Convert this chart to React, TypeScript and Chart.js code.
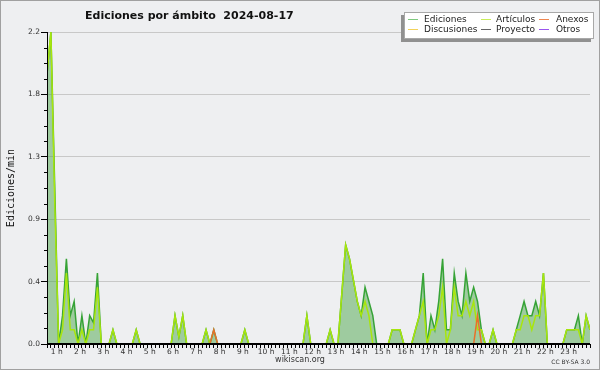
import React, { useEffect, useRef } from 'react';
import { Chart, registerables } from 'chart.js';

Chart.register(...registerables);

const TITLE = 'Ediciones por ámbito  2024-08-17';
const Y_AXIS_TITLE = 'Ediciones/min';
const FOOTER_SITE = 'wikiscan.org';
const FOOTER_LICENSE = 'CC BY-SA 3.0';

const HOUR_LABELS = [
  '1 h', '2 h', '3 h', '4 h', '5 h', '6 h', '7 h', '8 h', '9 h', '10 h', '11 h', '12 h',
  '13 h', '14 h', '15 h', '16 h', '17 h', '18 h', '19 h', '20 h', '21 h', '22 h', '23 h',
];

const Y_TICK_VALUES = [0, 0.44, 0.88, 1.32, 1.76, 2.2];
const Y_TICK_LABELS = ['0.0', '0.4', '0.9', '1.3', '1.8', '2.2'];

// values per 10-minute bin (edits per minute)
const EDICIONES = [
  1.9, 2.2, 1.1, 0, 0.2, 0.6, 0.2, 0.3, 0, 0.2, 0, 0.2,
  0.15, 0.5, 0, 0, 0, 0.1, 0, 0, 0, 0, 0, 0.1,
  0, 0, 0, 0, 0, 0, 0, 0, 0, 0.2, 0.05, 0.2,
  0, 0, 0, 0, 0, 0.1, 0, 0.1, 0, 0, 0, 0,
  0, 0, 0, 0.1, 0, 0, 0, 0, 0, 0, 0, 0,
  0, 0, 0, 0, 0, 0, 0, 0.2, 0, 0, 0, 0,
  0, 0.1, 0, 0, 0.35, 0.7, 0.6, 0.45, 0.3, 0.2, 0.4, 0.3,
  0.2, 0, 0, 0, 0, 0.1, 0.1, 0.1, 0, 0, 0, 0.1,
  0.2, 0.5, 0, 0.2, 0.1, 0.3, 0.6, 0.1, 0.1, 0.5, 0.3, 0.2,
  0.5, 0.3, 0.4, 0.3, 0.1, 0, 0, 0.1, 0, 0, 0, 0,
  0, 0.1, 0.2, 0.3, 0.2, 0.2, 0.3, 0.2, 0.5, 0, 0, 0,
  0, 0, 0.1, 0.1, 0.1, 0.2, 0, 0.2, 0.1,
];

const ARTICULOS = [
  1.9, 2.2, 1.0, 0, 0.1, 0.5, 0.1, 0.1, 0, 0.1, 0, 0.1,
  0.1, 0.4, 0, 0, 0, 0.1, 0, 0, 0, 0, 0, 0.1,
  0, 0, 0, 0, 0, 0, 0, 0, 0, 0.2, 0.05, 0.2,
  0, 0, 0, 0, 0, 0.1, 0, 0, 0, 0, 0, 0,
  0, 0, 0, 0.1, 0, 0, 0, 0, 0, 0, 0, 0,
  0, 0, 0, 0, 0, 0, 0, 0.2, 0, 0, 0, 0,
  0, 0.1, 0, 0, 0.35, 0.7, 0.6, 0.45, 0.3, 0.2, 0.3, 0.2,
  0, 0, 0, 0, 0, 0.1, 0.1, 0.1, 0, 0, 0, 0.1,
  0.2, 0.3, 0, 0.1, 0.1, 0.2, 0.4, 0, 0.1, 0.4, 0.2, 0.2,
  0.3, 0.2, 0.3, 0.1, 0.1, 0, 0, 0.1, 0, 0, 0, 0,
  0, 0.1, 0.1, 0.2, 0.2, 0.1, 0.2, 0.2, 0.5, 0, 0, 0,
  0, 0, 0.1, 0.1, 0.1, 0.1, 0, 0.2, 0.1,
];

const ANEXOS = [
  0, 0, 0, 0, 0, 0, 0, 0, 0, 0, 0, 0,
  0, 0, 0, 0, 0, 0, 0, 0, 0, 0, 0, 0,
  0, 0, 0, 0, 0, 0, 0, 0, 0, 0, 0, 0,
  0, 0, 0, 0, 0, 0, 0, 0.1, 0, 0, 0, 0,
  0, 0, 0, 0, 0, 0, 0, 0, 0, 0, 0, 0,
  0, 0, 0, 0, 0, 0, 0, 0, 0, 0, 0, 0,
  0, 0, 0, 0, 0, 0, 0, 0, 0, 0, 0, 0,
  0, 0, 0, 0, 0, 0, 0, 0, 0, 0, 0, 0,
  0, 0, 0, 0, 0, 0, 0, 0, 0, 0, 0, 0,
  0, 0, 0, 0.2, 0, 0, 0, 0, 0, 0, 0, 0,
  0, 0, 0, 0, 0, 0, 0, 0, 0, 0, 0, 0,
  0, 0, 0, 0, 0, 0, 0, 0, 0,
];

const DISCUSIONES = [
  0, 0, 0, 0, 0, 0, 0, 0, 0, 0, 0, 0,
  0, 0, 0, 0, 0, 0, 0, 0, 0, 0, 0, 0,
  0, 0, 0, 0, 0, 0, 0, 0, 0, 0, 0, 0,
  0, 0, 0, 0, 0, 0, 0, 0, 0, 0, 0, 0,
  0, 0, 0, 0, 0, 0, 0, 0, 0, 0, 0, 0,
  0, 0, 0, 0, 0, 0, 0, 0, 0, 0, 0, 0,
  0, 0, 0, 0, 0, 0, 0, 0, 0, 0, 0, 0,
  0, 0, 0, 0, 0, 0, 0, 0, 0, 0, 0, 0,
  0, 0, 0, 0, 0, 0, 0, 0, 0, 0, 0, 0,
  0, 0, 0, 0, 0, 0, 0, 0, 0, 0, 0, 0,
  0, 0, 0, 0, 0, 0, 0, 0, 0, 0, 0, 0,
  0, 0, 0, 0, 0, 0, 0, 0, 0,
];

const PROYECTO = [
  0, 0, 0, 0, 0, 0, 0, 0, 0, 0, 0, 0,
  0, 0, 0, 0, 0, 0, 0, 0, 0, 0, 0, 0,
  0, 0, 0, 0, 0, 0, 0, 0, 0, 0, 0, 0,
  0, 0, 0, 0, 0, 0, 0, 0, 0, 0, 0, 0,
  0, 0, 0, 0, 0, 0, 0, 0, 0, 0, 0, 0,
  0, 0, 0, 0, 0, 0, 0, 0, 0, 0, 0, 0,
  0, 0, 0, 0, 0, 0, 0, 0, 0, 0, 0, 0,
  0, 0, 0, 0, 0, 0, 0, 0, 0, 0, 0, 0,
  0, 0, 0, 0, 0, 0, 0, 0, 0, 0, 0, 0,
  0, 0, 0, 0, 0, 0, 0, 0, 0, 0, 0, 0,
  0, 0, 0, 0, 0, 0, 0, 0, 0, 0, 0, 0,
  0, 0, 0, 0, 0, 0, 0, 0, 0,
];

const OTROS = [
  0, 0, 0, 0, 0, 0, 0, 0, 0, 0, 0, 0,
  0, 0, 0, 0, 0, 0, 0, 0, 0, 0, 0, 0,
  0, 0, 0, 0, 0, 0, 0, 0, 0, 0, 0, 0,
  0, 0, 0, 0, 0, 0, 0, 0, 0, 0, 0, 0,
  0, 0, 0, 0, 0, 0, 0, 0, 0, 0, 0, 0,
  0, 0, 0, 0, 0, 0, 0, 0, 0, 0, 0, 0,
  0, 0, 0, 0, 0, 0, 0, 0, 0, 0, 0, 0,
  0, 0, 0, 0, 0, 0, 0, 0, 0, 0, 0, 0,
  0, 0, 0, 0, 0, 0, 0, 0, 0, 0, 0, 0,
  0, 0, 0, 0, 0, 0, 0, 0, 0, 0, 0, 0,
  0, 0, 0, 0, 0, 0, 0, 0, 0, 0, 0, 0,
  0, 0, 0, 0, 0, 0, 0, 0, 0,
];

const COLORS = {
  ediciones: '#36a336',
  edicionesFill: 'rgba(60,160,60,0.45)',
  articulos: '#a8e60c',
  anexos: '#e8702a',
  discusiones: '#f0d040',
  proyecto: '#555555',
  otros: '#9040e0',
};

const LEGEND_ROWS = [
  [['Ediciones', '#7fc97f'], ['Artículos', '#c8ec5a'], ['Anexos', '#ee8650']],
  [['Discusiones', '#f2d25a'], ['Proyecto', '#666666'], ['Otros', '#9a55ee']],
];

const toPoints = (arr: number[]) => arr.map((y, i) => ({ x: i, y }));
const BIN_INDEX = EDICIONES.map((_, i) => i);

const decorPlugin = {
  id: 'decor',
  beforeDraw(chart: any) {
    const { ctx, width, height } = chart;
    ctx.save();
    ctx.fillStyle = '#eeeff1';
    ctx.fillRect(0, 0, width, height);
    ctx.strokeStyle = '#a0a0a0';
    ctx.lineWidth = 1;
    ctx.strokeRect(0.5, 0.5, width - 1, height - 1);
    ctx.restore();
  },
  afterDatasetsDraw(chart: any) {
    const { ctx, chartArea: a } = chart;
    ctx.save();
    ctx.strokeStyle = '#000';
    ctx.lineWidth = 1;
    ctx.beginPath();
    ctx.moveTo(a.left + 0.5, a.top);
    ctx.lineTo(a.left + 0.5, a.bottom);
    ctx.stroke();
    ctx.lineWidth = 2;
    ctx.beginPath();
    ctx.moveTo(a.left, a.bottom);
    ctx.lineTo(a.right, a.bottom);
    ctx.stroke();
    ctx.restore();
  },
  afterDraw(chart: any) {
    const { ctx, chartArea: a } = chart;
    const yScale = chart.scales.y;
    ctx.save();
    // minor ticks on y axis
    ctx.strokeStyle = '#000';
    ctx.lineWidth = 1;
    for (let k = 1; k < 20; k++) {
      if (k % 4 === 0) continue;
      const py = Math.round(yScale.getPixelForValue(k * 0.11)) + 0.5;
      ctx.beginPath();
      ctx.moveTo(a.left - 3, py);
      ctx.lineTo(a.left, py);
      ctx.stroke();
    }
    // title
    ctx.fillStyle = '#111';
    ctx.font = 'bold 11px "DejaVu Sans"';
    ctx.textAlign = 'left';
    ctx.textBaseline = 'alphabetic';
    ctx.fillText(TITLE, 85, 18.5);
    // y axis title
    ctx.save();
    ctx.translate(11, (a.top + a.bottom) / 2);
    ctx.rotate(-Math.PI / 2);
    ctx.font = '10px "DejaVu Sans Mono"';
    ctx.textAlign = 'center';
    ctx.textBaseline = 'middle';
    ctx.fillStyle = '#111';
    ctx.fillText(Y_AXIS_TITLE, 0, 0);
    ctx.restore();
    // footers
    ctx.fillStyle = '#333';
    ctx.font = '8px "DejaVu Sans"';
    ctx.textAlign = 'center';
    ctx.textBaseline = 'middle';
    ctx.fillText(FOOTER_SITE, 300, 360);
    ctx.font = '6px "DejaVu Sans"';
    ctx.textAlign = 'right';
    ctx.fillText(FOOTER_LICENSE, 590, 362);
    // legend
    const bx = 404, by = 12, bw = 190, bh = 27;
    ctx.fillStyle = '#909090';
    ctx.fillRect(bx - 3, by + 3, bw, bh);
    ctx.fillStyle = '#ffffff';
    ctx.fillRect(bx, by, bw, bh);
    ctx.strokeStyle = '#a8a8a8';
    ctx.lineWidth = 1;
    ctx.strokeRect(bx + 0.5, by + 0.5, bw - 1, bh - 1);
    const colLine = [408, 481, 539];
    const colText = [424, 496, 556];
    const rowY = [19, 29];
    ctx.font = '9px "DejaVu Sans"';
    ctx.textAlign = 'left';
    ctx.textBaseline = 'middle';
    LEGEND_ROWS.forEach((row, r) => {
      row.forEach(([label, color], c) => {
        ctx.strokeStyle = color;
        ctx.beginPath();
        ctx.moveTo(colLine[c], rowY[r] + 0.5);
        ctx.lineTo(colLine[c] + 10, rowY[r] + 0.5);
        ctx.stroke();
        ctx.fillStyle = '#222';
        ctx.fillText(label, colText[c], rowY[r] + 0.5);
      });
    });
    ctx.restore();
  },
};

export default function App() {
  const canvasRef = useRef<HTMLCanvasElement | null>(null);

  useEffect(() => {
    document.body.style.margin = '0';
    const canvas = canvasRef.current;
    if (!canvas) return;
    const tickFont = { family: '"DejaVu Sans"', size: 7.5 };
    const line = (label: string, data: number[], color: string, order: number, extra: any = {}) => ({
      label,
      data: toPoints(data),
      borderColor: color,
      borderWidth: 1.5,
      pointRadius: 0,
      tension: 0,
      fill: false,
      order,
      ...extra,
    });
    const chart = new Chart(canvas, {
      type: 'line',
      data: {
        datasets: [
          line('Ediciones', EDICIONES, COLORS.ediciones, 10, {
            fill: 'origin',
            backgroundColor: COLORS.edicionesFill,
          }),
          line('Artículos', ARTICULOS, COLORS.articulos, 5),
          line('Discusiones', DISCUSIONES, COLORS.discusiones, 4),
          line('Proyecto', PROYECTO, COLORS.proyecto, 3),
          line('Otros', OTROS, COLORS.otros, 2),
          line('Anexos', ANEXOS, COLORS.anexos, 1),
        ],
      },
      options: {
        animation: false,
        responsive: false,
        devicePixelRatio: 1,
        layout: { padding: { top: 32, right: 10, left: 0, bottom: 0 } },
        plugins: {
          legend: { display: false },
          title: { display: false },
          tooltip: { enabled: false },
        },
        scales: {
          x: {
            type: 'linear',
            min: 0,
            max: BIN_INDEX.length - 1,
            afterBuildTicks: (s: any) => {
              s.ticks = BIN_INDEX.map((v) => ({ value: v }));
            },
            afterFit: (s: any) => {
              s.height = 26;
            },
            grid: {
              drawOnChartArea: false,
              color: '#000',
              tickColor: '#000',
              tickLength: 4,
              lineWidth: 1,
            },
            border: { display: true, color: '#000', width: 1 },
            ticks: {
              autoSkip: false,
              maxRotation: 0,
              minRotation: 0,
              padding: 0,
              labelOffset: -1.94,
              color: '#333',
              font: tickFont,
              callback: (v: any) => {
                const k = (Number(v) + 3) / 6;
                return Number.isInteger(k) && k >= 1 && k <= HOUR_LABELS.length ? HOUR_LABELS[k - 1] : '';
              },
            },
          },
          y: {
            min: 0,
            max: 2.2,
            afterBuildTicks: (s: any) => {
              s.ticks = Y_TICK_VALUES.map((v) => ({ value: v }));
            },
            afterFit: (s: any) => {
              s.width = 47;
            },
            grid: { color: '#c8c8c8', tickColor: '#000', tickLength: 6, lineWidth: 1 },
            border: { display: true, color: '#000', width: 1 },
            ticks: {
              padding: 1,
              color: '#333',
              font: tickFont,
              callback: (_v: any, i: number) => Y_TICK_LABELS[i],
            },
          },
        },
      },
      plugins: [decorPlugin],
    } as any);
    return () => chart.destroy();
  }, []);

  return <canvas ref={canvasRef} width={600} height={370} style={{ display: 'block' }} />;
}
